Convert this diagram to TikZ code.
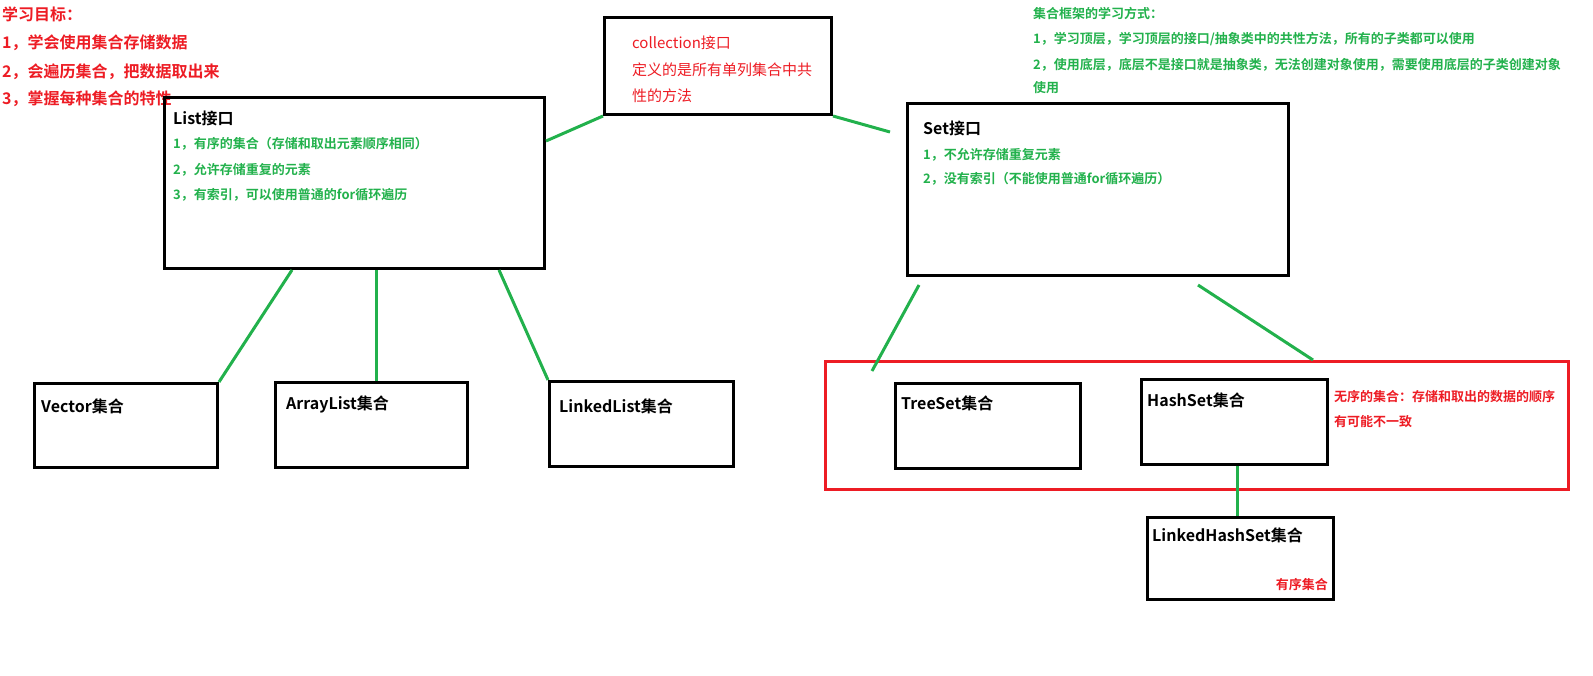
\documentclass[tikz,border=0pt]{standalone}
\usepackage{fontspec}
\setmainfont{Noto Sans CJK SC}[BoldFont={Noto Sans CJK SC Bold}]
\usepackage{xcolor}
\usepackage{tikz}
\definecolor{pred}{RGB}{237,28,36}
\definecolor{pgreen}{RGB}{34,177,76}

\begin{document}
\begin{tikzpicture}[
    x=1pt, y=-1pt,
    box/.style={rectangle, draw, line width=3pt, anchor=north west, inner sep=0pt},
    group/.style={rectangle, draw=pred, line width=3pt, anchor=north west, inner sep=0pt},
    head/.style={anchor=west, inner sep=0pt, font=\fontsize{16}{19}\selectfont\bfseries},
    goal/.style={anchor=west, inner sep=0pt, text=pred, font=\fontsize{16}{19}\selectfont\bfseries},
    memo/.style={anchor=west, inner sep=0pt, text=pred, font=\fontsize{15}{18}\selectfont},
    tip/.style={anchor=west, inner sep=0pt, text=pgreen, font=\fontsize{13}{15}\selectfont\bfseries},
    warn/.style={anchor=west, inner sep=0pt, text=pred, font=\fontsize{13}{15}\selectfont\bfseries},
    link/.style={draw=pgreen, line width=3pt}
]
    \useasboundingbox (0,0) rectangle (1593,675);

    % Learning goals (top left)
    \node[goal] (goal0) at (2,14) {学习目标：};
    \node[goal] (goal1) at (2,43) {1，学会使用集合存储数据};
    \node[goal] (goal2) at (2,72) {2，会遍历集合，把数据取出来};
    \node[goal] (goal3) at (2,99) {3，掌握每种集合的特性};

    % Learning method (top right)
    \node[tip] (way0) at (1033,13) {集合框架的学习方式：};
    \node[tip] (way1) at (1033,39) {1，学习顶层，学习顶层的接口/抽象类中的共性方法，所有的子类都可以使用};
    \node[tip] (way2) at (1033,65) {2，使用底层，底层不是接口就是抽象类，无法创建对象使用，需要使用底层的子类创建对象};
    \node[tip] (way3) at (1033,88) {使用};

    % Top interface
    \node[box, minimum width=227pt, minimum height=97pt] (coll) at (603,16) {};
    \node[memo] (collt1) at (632,43) {collection接口};
    \node[memo] (collt2) at (632,70) {定义的是所有单列集合中共};
    \node[memo] (collt3) at (632,96) {性的方法};

    % Sub interfaces
    \node[box, minimum width=380pt, minimum height=171pt] (list) at (163,96) {};
    \node[head] (listt) at (173,118) {List接口};
    \node[tip] (list1) at (173,144) {1，有序的集合（存储和取出元素顺序相同）};
    \node[tip] (list2) at (173,170) {2，允许存储重复的元素};
    \node[tip] (list3) at (173,195) {3，有索引，可以使用普通的for循环遍历};

    \node[box, minimum width=381pt, minimum height=172pt] (set) at (906,102) {};
    \node[head] (sett) at (923,128) {Set接口};
    \node[tip] (set1) at (923,155) {1，不允许存储重复元素};
    \node[tip] (set2) at (923,179) {2，没有索引（不能使用普通for循环遍历）};

    % List implementations
    \node[box, minimum width=183pt, minimum height=84pt] (vec) at (33,382) {};
    \node[head] (vect) at (41,406) {Vector集合};
    \node[box, minimum width=192pt, minimum height=85pt] (arr) at (274,381) {};
    \node[head] (arrt) at (286,404) {ArrayList集合};
    \node[box, minimum width=184pt, minimum height=85pt] (lnk) at (548,380) {};
    \node[head] (lnkt) at (559,406) {LinkedList集合};

    % Set implementations
    \node[group, minimum width=743pt, minimum height=128pt] (unord) at (824,360) {};
    \node[box, minimum width=185pt, minimum height=85pt] (tree) at (894,382) {};
    \node[head] (treet) at (901,403) {TreeSet集合};
    \node[box, minimum width=186pt, minimum height=85pt] (hash) at (1140,378) {};
    \node[head] (hasht) at (1147,400) {HashSet集合};
    \node[warn] (unord1) at (1334,397) {无序的集合：存储和取出的数据的顺序};
    \node[warn] (unord2) at (1334,422) {有可能不一致};
    \node[box, minimum width=186pt, minimum height=82pt] (lhs) at (1146,516) {};
    \node[head] (lhst) at (1152,535) {LinkedHashSet集合};
    \node[warn, anchor=east] (lhsn) at (1328,585) {有序集合};

    % Lines - top interface to sub interfaces
    \draw[link] (coll.south west) -- ([yshift=-45pt]list.north east);
    \draw[link] (coll.south east) -- ([shift={(-16,30)}]set.north west);

    % Lines - List to implementations
    \draw[link] ([xshift=129pt]list.south west) -- (vec.north east);
    \draw[link] ([xshift=213pt]list.south west) -- ([xshift=102pt]arr.north west);
    \draw[link] ([xshift=336pt]list.south west) -- (lnk.north west);

    % Lines - Set to implementations
    \draw[link] ([shift={(13,8)}]set.south west) -- ([shift={(-22,-11)}]tree.north west);
    \draw[link] ([shift={(292,8)}]set.south west) -- ([xshift=489pt]unord.north west);
    \draw[link] ([xshift=97pt]hash.south west) -- ([xshift=91pt]lhs.north west);
\end{tikzpicture}
\end{document}
